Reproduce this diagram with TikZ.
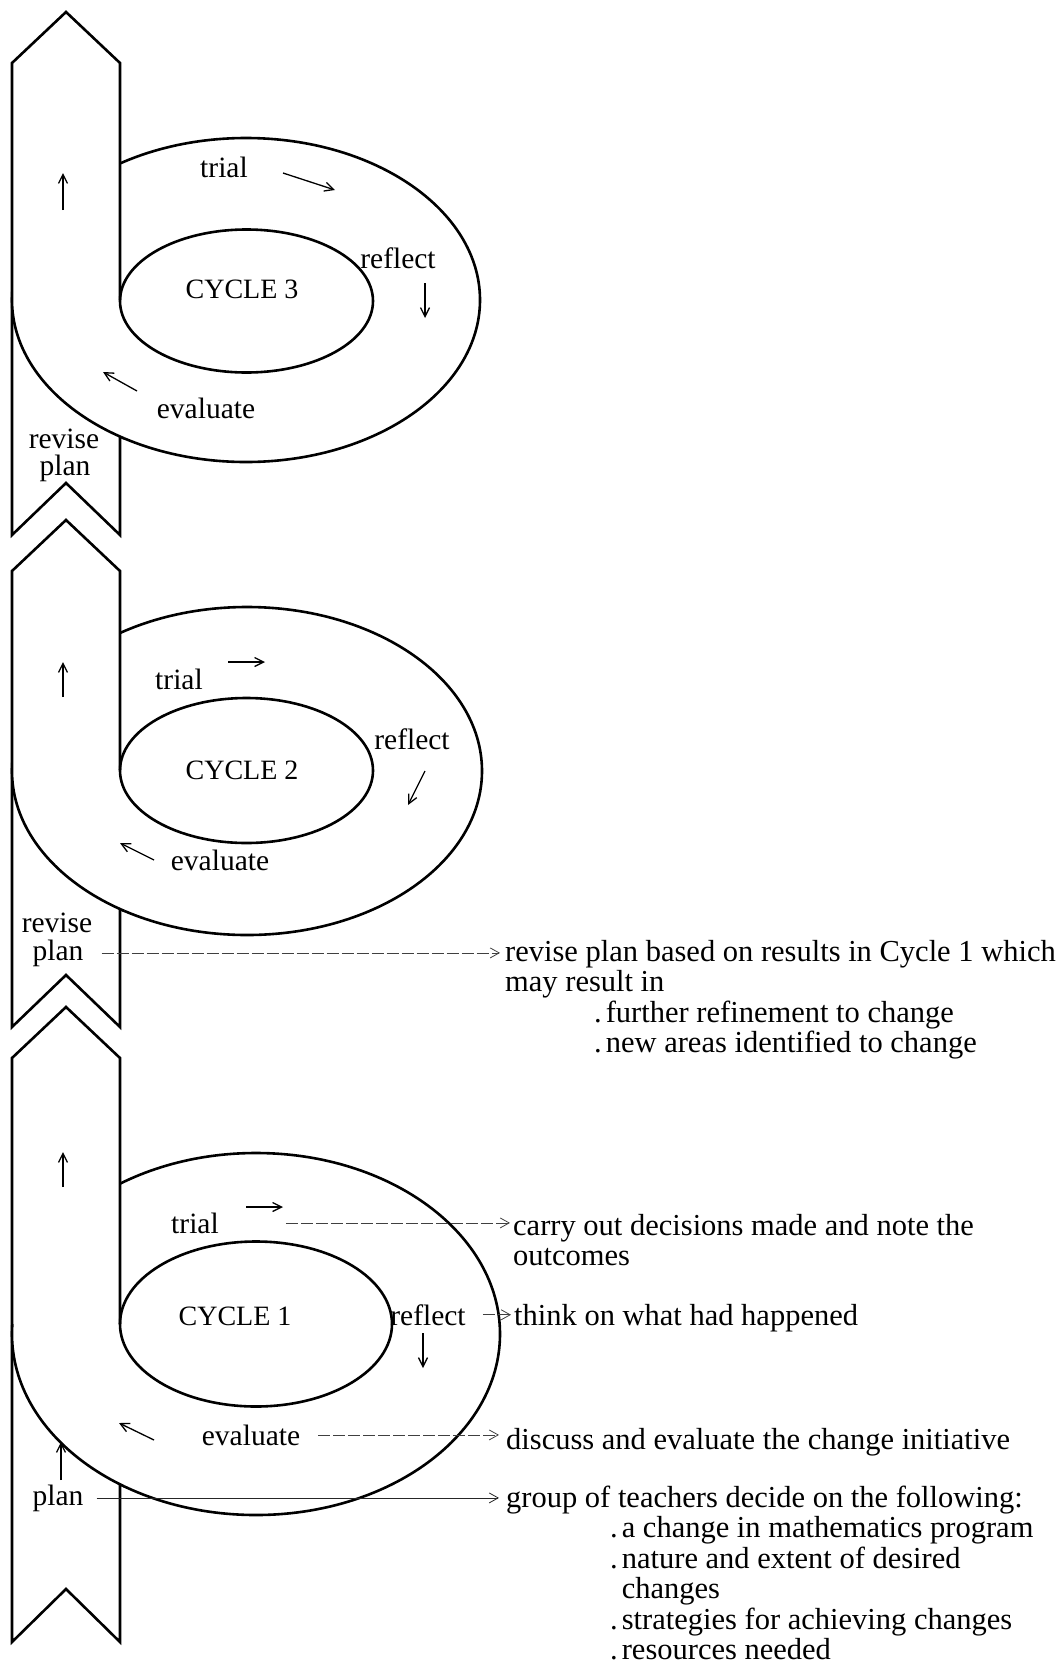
\documentclass[tikz,border=0pt]{standalone}
\usepackage{fontspec}
\setmainfont{Liberation Serif}
\usetikzlibrary{arrows.meta}
\newcommand\rtfont{\fontsize{30.5}{30.5}\selectfont}
\newcommand\lbfont{\fontsize{29.5}{30}\selectfont}
\newcommand\cyfont{\fontsize{28}{30}\selectfont}
\newcommand\bul{.\hspace{4pt}}
\begin{document}
\begin{tikzpicture}[x=1pt,y=-1pt,
  shapeline/.style={line width=2.6pt, line join=miter},
  band/.style={shapeline, fill=white},
  lbl/.style={font=\lbfont, inner sep=0pt, anchor=base},
  cyc/.style={font=\cyfont, inner sep=0pt, anchor=base},
  rt/.style={font=\rtfont, inner sep=0pt, anchor=north west, align=left},
  dir/.style={line width=1.3pt, -{Straight Barb[length=9pt,width=9pt]}},
  conn/.style={line width=0.8pt, black!75, dash pattern=on 12pt off 3pt, -{Straight Barb[length=9pt,width=10pt]}},
  connsolid/.style={line width=0.8pt, black!85, -{Straight Barb[length=9pt,width=10pt]}}]
\useasboundingbox (0,0) rectangle (1060,1663);

% ---------------- CYCLE 3 ----------------
\draw[shapeline, fill=white] (246,300) ellipse [x radius=234pt, y radius=162pt];
\draw[band] (66,12) -- (120,63) -- (120,535) -- (66,483) -- (12,535) -- (12,63) -- cycle;
\begin{scope}
  \clip (12,300) rectangle (124,480);
  \draw[shapeline, fill=white] (246,300) ellipse [x radius=234pt, y radius=162pt];
\end{scope}
\draw[shapeline] (246.5,301) ellipse [x radius=126.5pt, y radius=71.5pt];
\draw[shapeline] (12,63) -- (12,535);

\node[lbl] (t3) at (224,177) {trial};
\node[lbl] (r3) at (398,268) {reflect};
\node[cyc] (c3) at (242,298) {CYCLE 3};
\node[lbl] (e3) at (206,418) {evaluate};
\node[lbl] (rv3) at (64,448) {revise};
\node[lbl] (pl3) at (65,475) {plan};
\draw[dir] (283,173) -- (335,190);
\draw[dir] (425,283) -- (425,318);
\draw[dir] (137,391) -- (103,372);
\draw[dir] (63,210) -- (63,173);

% ---------------- CYCLE 2 ----------------
\draw[shapeline, fill=white] (247,771) ellipse [x radius=235pt, y radius=164pt];
\draw[band] (66,520) -- (120,571) -- (120,1027) -- (66,975) -- (12,1027) -- (12,571) -- cycle;
\begin{scope}
  \clip (12,770) rectangle (124,950);
  \draw[shapeline, fill=white] (247,771) ellipse [x radius=235pt, y radius=164pt];
\end{scope}
\draw[shapeline] (246.5,770.5) ellipse [x radius=126.5pt, y radius=72.5pt];
\draw[shapeline] (12,571) -- (12,1027);

\node[lbl] (t2) at (179,689) {trial};
\node[lbl] (r2) at (412,749) {reflect};
\node[cyc] (c2) at (242,779) {CYCLE 2};
\node[lbl] (e2) at (220,870) {evaluate};
\node[lbl] (rv2) at (57,932) {revise};
\node[lbl] (pl2) at (58,960) {plan};
\draw[dir] (228,662) -- (265,662);
\draw[dir] (425,771) -- (408,805);
\draw[dir] (154,860) -- (120,843);
\draw[dir] (63,697) -- (63,662);

% ---------------- CYCLE 1 ----------------
\draw[shapeline, fill=white] (256,1334) ellipse [x radius=244pt, y radius=181pt];
\draw[band] (66,1007) -- (120,1058) -- (120,1642) -- (66,1589) -- (12,1642) -- (12,1058) -- cycle;
\begin{scope}
  \clip (12,1324) rectangle (124,1530);
  \draw[shapeline, fill=white] (256,1334) ellipse [x radius=244pt, y radius=181pt];
\end{scope}
\draw[shapeline] (256,1324) ellipse [x radius=136pt, y radius=82.5pt];
\draw[shapeline] (12,1058) -- (12,1642);

\node[lbl] (t1) at (195,1233) {trial};
\node[cyc] (c1) at (235,1325) {CYCLE 1};
\node[lbl] (r1) at (428,1325) {reflect};
\node[lbl] (e1) at (251,1445) {evaluate};
\node[lbl] (pl1) at (58,1505) {plan};
\draw[dir] (246,1207) -- (283,1207);
\draw[dir] (423,1333) -- (423,1368);
\draw[dir] (154,1440) -- (119,1423);
\draw[dir] (63,1187) -- (63,1152);
\draw[dir] (61,1480) -- (61,1442);

% ---------------- right-hand texts ----------------
\node[rt] (rt2) at (505,939) {\rule{0pt}{22pt}revise plan based on results in Cycle 1 which\\
  may result in\\
  \hspace*{89pt}\bul further refinement to change\\
  \hspace*{89pt}\bul new areas identified to change};
\node[rt] (ct1) at (513,1213) {\rule{0pt}{22pt}carry out decisions made and note the\\ outcomes};
\node[rt] (th1) at (514,1303) {\rule{0pt}{22pt}think on what had happened};
\node[rt] (dc1) at (506,1427) {\rule{0pt}{22pt}discuss and evaluate the change initiative};
\node[rt] (gp1) at (506,1485) {\rule{0pt}{22pt}group of teachers decide on the following:\\
  \hspace*{104pt}\bul a change in mathematics program\\
  \hspace*{104pt}\bul nature and extent of desired\\
  \hspace*{115.6pt}changes\\
  \hspace*{104pt}\bul strategies for achieving changes\\
  \hspace*{104pt}\bul resources needed};

% ---------------- connectors ----------------
\draw[conn, shorten <=18pt, shorten >=5pt] (pl2.east) -- (pl2.east -| rt2.west);
\draw[conn, shorten <=67pt, shorten >=3pt] (t1.east) -- (t1.east -| ct1.west);
\draw[conn, shorten <=17pt, shorten >=3pt] (r1.east) -- (r1.east -| th1.west);
\draw[conn, shorten <=18pt, shorten >=7pt] (e1.east) -- (e1.east -| dc1.west);
\draw[connsolid, shorten <=13pt, shorten >=7pt] (pl1.east) -- (pl1.east -| gp1.west);
\end{tikzpicture}
\end{document}
